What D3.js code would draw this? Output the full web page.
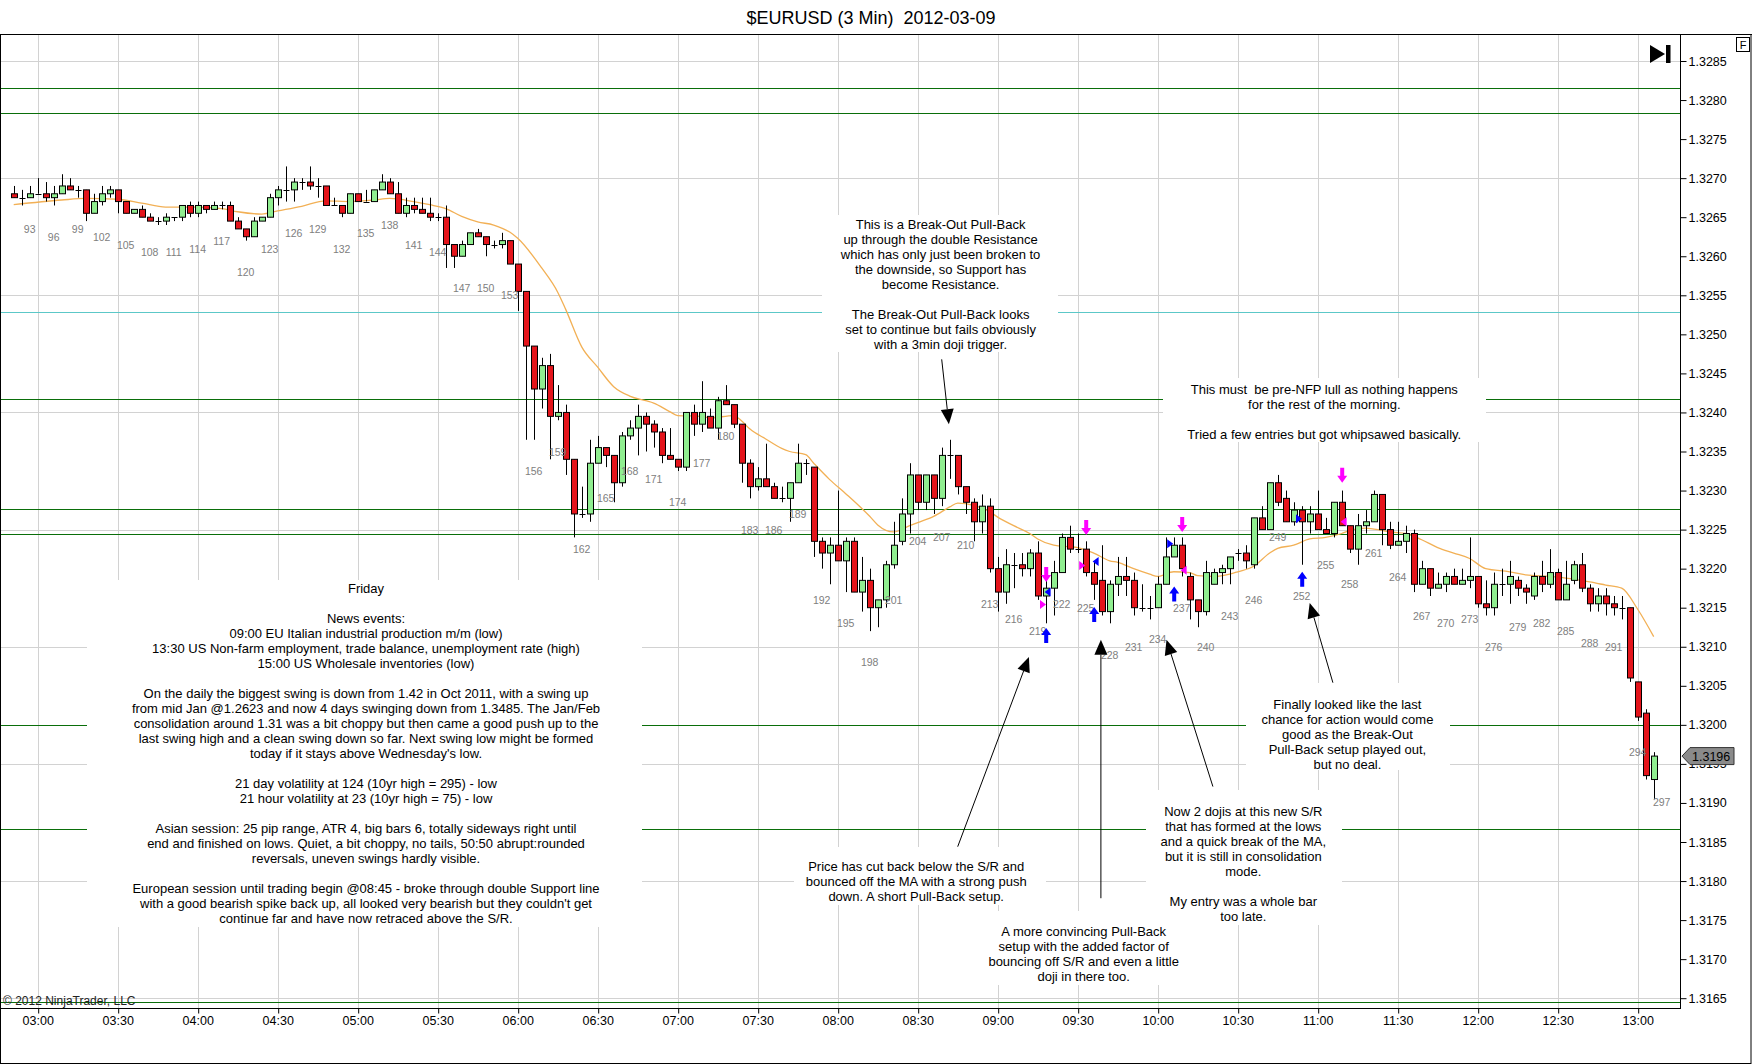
<!DOCTYPE html>
<html>
<head>
<meta charset="utf-8">
<script src="https://cdn.jsdelivr.net/npm/d3@7"></script>
<style>
  body { margin: 0; background: #fff; }
  svg { display: block; font-family: "Liberation Sans", Arial, sans-serif; }
  .note text { font-size: 13px; fill: #000; white-space: pre; }
</style>
</head>
<body>
<svg id="chart" width="1752" height="1064"></svg>
<script>
// ---- chart data ----
const title = "$EURUSD (3 Min)  2012-03-09";
const sessionDate = "2012-03-09";
const firstBar = 91;        // bar number of the first candle on screen
const firstTickBar = 94;    // bar number sitting on the 03:00 tick

const opens = [
  1.32680,1.32675,1.32675,1.32680,1.32680,1.32675,1.32680,1.32690,1.32685,1.32685,
  1.32655,1.32670,1.32680,1.32685,1.32670,1.32655,1.32660,1.32650,1.32645,1.32645,
  1.32650,1.32650,1.32665,1.32655,1.32665,1.32660,1.32665,1.32665,1.32645,1.32635,
  1.32625,1.32645,1.32650,1.32675,1.32685,1.32685,1.32695,1.32695,1.32690,1.32690,
  1.32665,1.32665,1.32655,1.32680,1.32670,1.32670,1.32685,1.32695,1.32680,1.32655,
  1.32665,1.32660,1.32655,1.32650,1.32650,1.32615,1.32600,1.32615,1.32630,1.32625,
  1.32615,1.32615,1.32620,1.32590,1.32555,1.32485,1.32430,1.32460,1.32395,1.32400,
  1.32340,1.32270,1.32270,1.32335,1.32355,1.32345,1.32310,1.32370,1.32380,1.32395,
  1.32385,1.32375,1.32345,1.32340,1.32330,1.32400,1.32385,1.32395,1.32380,1.32415,
  1.32410,1.32385,1.32335,1.32305,1.32315,1.32305,1.32290,1.32290,1.32310,1.32335,
  1.32330,1.32235,1.32220,1.32230,1.32210,1.32235,1.32170,1.32185,1.32150,1.32160,
  1.32205,1.32235,1.32270,1.32320,1.32285,1.32320,1.32290,1.32345,1.32345,1.32305,
  1.32285,1.32260,1.32280,1.32200,1.32170,1.32205,1.32205,1.32200,1.32220,1.32165,
  1.32175,1.32195,1.32240,1.32225,1.32225,1.32195,1.32185,1.32145,1.32180,1.32190,
  1.32185,1.32150,1.32150,1.32150,1.32180,1.32215,1.32230,1.32190,1.32160,1.32145,
  1.32180,1.32195,1.32200,1.32220,1.32220,1.32205,1.32265,1.32250,1.32310,1.32290,
  1.32260,1.32275,1.32260,1.32270,1.32250,1.32245,1.32285,1.32255,1.32225,1.32255,
  1.32260,1.32295,1.32250,1.32230,1.32235,1.32245,1.32180,1.32200,1.32175,1.32180,
  1.32190,1.32180,1.32185,1.32190,1.32155,1.32150,1.32180,1.32180,1.32185,1.32175,
  1.32165,1.32190,1.32180,1.32195,1.32160,1.32185,1.32205,1.32175,1.32155,1.32165,
  1.32155,1.32150,1.32150,1.32055,1.32015,1.31930
];
const highs = [
  1.32690,1.32685,1.32690,1.32700,1.32695,1.32690,1.32705,1.32700,1.32690,1.32685,
  1.32680,1.32690,1.32690,1.32685,1.32670,1.32660,1.32665,1.32655,1.32650,1.32655,
  1.32650,1.32665,1.32670,1.32670,1.32665,1.32670,1.32670,1.32670,1.32650,1.32635,
  1.32650,1.32650,1.32680,1.32690,1.32715,1.32700,1.32700,1.32715,1.32700,1.32690,
  1.32675,1.32665,1.32680,1.32680,1.32685,1.32685,1.32705,1.32700,1.32695,1.32675,
  1.32675,1.32675,1.32675,1.32655,1.32665,1.32615,1.32620,1.32630,1.32635,1.32625,
  1.32620,1.32630,1.32620,1.32590,1.32555,1.32485,1.32470,1.32475,1.32435,1.32410,
  1.32340,1.32305,1.32365,1.32370,1.32355,1.32345,1.32375,1.32390,1.32410,1.32400,
  1.32390,1.32380,1.32380,1.32340,1.32400,1.32410,1.32440,1.32405,1.32420,1.32435,
  1.32410,1.32385,1.32340,1.32330,1.32360,1.32310,1.32305,1.32310,1.32360,1.32340,
  1.32330,1.32240,1.32240,1.32300,1.32240,1.32240,1.32215,1.32200,1.32160,1.32210,
  1.32260,1.32290,1.32335,1.32320,1.32320,1.32320,1.32355,1.32365,1.32345,1.32305,
  1.32290,1.32295,1.32290,1.32215,1.32225,1.32220,1.32220,1.32225,1.32235,1.32195,
  1.32210,1.32245,1.32255,1.32245,1.32235,1.32210,1.32230,1.32185,1.32215,1.32215,
  1.32195,1.32180,1.32165,1.32190,1.32240,1.32240,1.32240,1.32195,1.32160,1.32210,
  1.32200,1.32205,1.32215,1.32225,1.32230,1.32265,1.32280,1.32310,1.32320,1.32300,
  1.32285,1.32280,1.32280,1.32300,1.32265,1.32285,1.32300,1.32255,1.32270,1.32275,
  1.32300,1.32295,1.32260,1.32260,1.32255,1.32250,1.32210,1.32200,1.32195,1.32195,
  1.32200,1.32200,1.32240,1.32190,1.32185,1.32195,1.32200,1.32210,1.32190,1.32180,
  1.32195,1.32210,1.32225,1.32200,1.32210,1.32210,1.32220,1.32180,1.32175,1.32175,
  1.32165,1.32165,1.32150,1.32055,1.32020,1.31965
];
const lows = [
  1.32675,1.32665,1.32675,1.32680,1.32670,1.32665,1.32680,1.32685,1.32675,1.32645,
  1.32655,1.32665,1.32675,1.32655,1.32655,1.32655,1.32650,1.32645,1.32640,1.32640,
  1.32645,1.32645,1.32650,1.32650,1.32655,1.32660,1.32660,1.32645,1.32635,1.32620,
  1.32625,1.32645,1.32650,1.32665,1.32670,1.32670,1.32685,1.32685,1.32675,1.32665,
  1.32665,1.32650,1.32655,1.32670,1.32670,1.32670,1.32685,1.32680,1.32655,1.32650,
  1.32655,1.32655,1.32645,1.32645,1.32585,1.32585,1.32600,1.32615,1.32625,1.32600,
  1.32610,1.32610,1.32590,1.32530,1.32365,1.32365,1.32405,1.32340,1.32390,1.32320,
  1.32240,1.32265,1.32260,1.32335,1.32330,1.32285,1.32305,1.32365,1.32345,1.32350,
  1.32355,1.32335,1.32340,1.32325,1.32325,1.32370,1.32375,1.32380,1.32365,1.32410,
  1.32380,1.32310,1.32290,1.32300,1.32305,1.32290,1.32285,1.32260,1.32310,1.32320,
  1.32215,1.32200,1.32180,1.32210,1.32170,1.32170,1.32145,1.32120,1.32125,1.32150,
  1.32200,1.32230,1.32245,1.32275,1.32275,1.32270,1.32280,1.32315,1.32295,1.32270,
  1.32235,1.32245,1.32195,1.32145,1.32155,1.32175,1.32190,1.32190,1.32160,1.32130,
  1.32140,1.32195,1.32220,1.32220,1.32190,1.32160,1.32140,1.32130,1.32165,1.32165,
  1.32140,1.32145,1.32135,1.32150,1.32180,1.32215,1.32190,1.32135,1.32125,1.32140,
  1.32180,1.32180,1.32180,1.32210,1.32200,1.32200,1.32250,1.32250,1.32280,1.32260,
  1.32255,1.32205,1.32245,1.32250,1.32245,1.32240,1.32255,1.32220,1.32205,1.32245,
  1.32260,1.32230,1.32225,1.32230,1.32220,1.32170,1.32180,1.32165,1.32175,1.32170,
  1.32180,1.32180,1.32175,1.32150,1.32140,1.32140,1.32165,1.32155,1.32165,1.32155,
  1.32160,1.32170,1.32175,1.32160,1.32160,1.32180,1.32170,1.32145,1.32145,1.32140,
  1.32140,1.32135,1.32055,1.32005,1.31930,1.31905
];
const closes = [
  1.32675,1.32675,1.32680,1.32680,1.32675,1.32680,1.32690,1.32685,1.32685,1.32655,
  1.32670,1.32680,1.32685,1.32670,1.32655,1.32660,1.32650,1.32645,1.32645,1.32650,
  1.32650,1.32665,1.32655,1.32665,1.32660,1.32665,1.32665,1.32645,1.32635,1.32625,
  1.32645,1.32650,1.32675,1.32685,1.32685,1.32695,1.32695,1.32690,1.32690,1.32665,
  1.32665,1.32655,1.32680,1.32670,1.32670,1.32685,1.32695,1.32680,1.32655,1.32665,
  1.32660,1.32655,1.32650,1.32650,1.32615,1.32600,1.32615,1.32630,1.32625,1.32615,
  1.32615,1.32620,1.32590,1.32555,1.32485,1.32430,1.32460,1.32395,1.32400,1.32340,
  1.32270,1.32270,1.32335,1.32355,1.32345,1.32310,1.32370,1.32380,1.32395,1.32385,
  1.32375,1.32345,1.32340,1.32330,1.32400,1.32385,1.32400,1.32380,1.32415,1.32410,
  1.32385,1.32335,1.32305,1.32315,1.32305,1.32290,1.32290,1.32310,1.32335,1.32335,
  1.32235,1.32220,1.32230,1.32210,1.32235,1.32170,1.32185,1.32150,1.32160,1.32205,
  1.32230,1.32270,1.32320,1.32285,1.32320,1.32290,1.32345,1.32345,1.32305,1.32285,
  1.32260,1.32280,1.32200,1.32170,1.32205,1.32205,1.32200,1.32220,1.32165,1.32175,
  1.32195,1.32240,1.32225,1.32225,1.32195,1.32180,1.32145,1.32180,1.32190,1.32185,
  1.32150,1.32150,1.32150,1.32180,1.32215,1.32230,1.32200,1.32160,1.32145,1.32195,
  1.32195,1.32200,1.32215,1.32220,1.32210,1.32265,1.32250,1.32310,1.32285,1.32260,
  1.32275,1.32260,1.32270,1.32250,1.32245,1.32285,1.32255,1.32225,1.32255,1.32260,
  1.32295,1.32250,1.32230,1.32235,1.32245,1.32180,1.32200,1.32175,1.32180,1.32190,
  1.32180,1.32185,1.32190,1.32155,1.32150,1.32180,1.32180,1.32190,1.32175,1.32170,
  1.32190,1.32180,1.32195,1.32160,1.32180,1.32205,1.32175,1.32155,1.32165,1.32155,
  1.32150,1.32150,1.32060,1.32010,1.31935,1.31960
];

// moving average (orange line)
const maBars = [91,97,100,104,107,110,114,117,119,122,124,127,130,133,136,138,141,143,145,147,
  149,151,153,154,157,159,160,162,164,166,168,170,171,173,174,177,178,181,182,183,
  185,187,188,190,191,193,195,198,199,201,203,204,206,208,209,211,213,214,216,218,
  219,221,223,224,226,228,229,231,233,234,236,238,239,241,243,244,246,248,249,251,
  253,255,257,258,260,262,263,265,267,269,271,273,275,278,280,283,285,288,290,292,294,296];
const maValues = [1.32666,1.32672,1.32674,1.32673,1.32668,1.32663,1.32663,1.32661,1.32657,1.32654,
  1.32658,1.32664,1.32671,1.32670,1.32672,1.32674,1.32670,1.32666,1.32661,1.32651,
  1.32644,1.32640,1.32631,1.32623,1.32585,1.32554,1.32532,1.32484,1.32458,1.32433,
  1.32421,1.32415,1.32412,1.32401,1.32396,1.32395,1.32393,1.32396,1.32389,1.32379,
  1.32366,1.32354,1.32350,1.32346,1.32335,1.32314,1.32296,1.32267,1.32256,1.32247,
  1.32255,1.32259,1.32267,1.32279,1.32284,1.32281,1.32273,1.32266,1.32255,1.32245,
  1.32238,1.32230,1.32228,1.32227,1.32220,1.32210,1.32208,1.32200,1.32193,1.32190,
  1.32196,1.32195,1.32191,1.32190,1.32193,1.32196,1.32203,1.32220,1.32226,1.32230,
  1.32238,1.32240,1.32245,1.32249,1.32252,1.32249,1.32247,1.32245,1.32237,1.32227,
  1.32220,1.32213,1.32200,1.32196,1.32192,1.32190,1.32188,1.32183,1.32179,1.32175,1.32148,1.32113];

// horizontal support / resistance lines
const srPrices = [1.32815, 1.32783, 1.32528, 1.32417, 1.32277, 1.32245, 1.32000, 1.31867, 1.31645];
const srColors = ["#0a6e0a","#0a6e0a","#5cc8c8","#0a6e0a","#0a6e0a","#0a6e0a","#0a6e0a","#0a6e0a","#0a6e0a"];

// signal arrows
const shortArrowBars = [220, 225, 237, 257];
const shortArrowPrices = [1.32183, 1.32243, 1.32247, 1.32310];
const longArrowBars = [220, 226, 236, 252];
const longArrowPrices = [1.32124, 1.32151, 1.32177, 1.32196];

// small execution marks
const fillBars = [219.6, 220.3, 224.5, 226.3, 235.5, 237.3, 251.6, 257.3];
const fillPrices = [1.32154, 1.32170, 1.32204, 1.32209, 1.32232, 1.32198, 1.32264, 1.32260];
const fillColors = ["#ff00ff","#0000ff","#ff00ff","#0000ff","#0000ff","#ff00ff","#0000ff","#ff00ff"];
const fillDirs = [1, -1, 1, -1, 1, -1, 1, -1];

const lastPrice = 1.3196;
const yTicks = [1.3165,1.3170,1.3175,1.3180,1.3185,1.3190,1.3195,1.3200,1.3205,1.3210,1.3215,1.3220,
  1.3225,1.3230,1.3235,1.3240,1.3245,1.3250,1.3255,1.3260,1.3265,1.3270,1.3275,1.3280,1.3285];
const gridPrices = [1.3165,1.3180,1.3195,1.3210,1.3225,1.3240,1.3255,1.3270,1.3285];
const timeTicks = ["03:00","03:30","04:00","04:30","05:00","05:30","06:00","06:30","07:00","07:30",
  "08:00","08:30","09:00","09:30","10:00","10:30","11:00","11:30","12:00","12:30","13:00"];

// annotation texts
const notesLeft = ["Friday", "", "News events:",
  "09:00 EU Italian industrial production m/m (low)",
  "13:30 US Non-farm employment, trade balance, unemployment rate (high)",
  "15:00 US Wholesale inventories (low)", "",
  "On the daily the biggest swing is down from 1.42 in Oct 2011, with a swing up",
  "from mid Jan @1.2623 and now 4 days swinging down from 1.3485. The Jan/Feb",
  "consolidation around 1.31 was a bit choppy but then came a good push up to the",
  "last swing high and a clean swing down so far. Next swing low might be formed",
  "today if it stays above Wednesday's low.", "",
  "21 day volatility at 124 (10yr high = 295) - low",
  "21 hour volatility at 23 (10yr high = 75) - low", "",
  "Asian session: 25 pip range, ATR 4, big bars 6, totally sideways right until",
  "end and finished on lows. Quiet, a bit choppy, no tails, 50:50 abrupt:rounded",
  "reversals, uneven swings hardly visible.", "",
  "European session until trading begin @08:45 - broke through double Support line",
  "with a good bearish spike back up, all looked very bearish but they couldn't get",
  "continue far and have now retraced above the S/R."];
const notesBreakOut = ["This is a Break-Out Pull-Back", "up through the double Resistance",
  "which has only just been broken to", "the downside, so Support has", "become Resistance.", "",
  "The Break-Out Pull-Back looks", "set to continue but fails obviously", "with a 3min doji trigger."];
const notesLull = ["This must  be pre-NFP lull as nothing happens", "for the rest of the morning.", "",
  "Tried a few entries but got whipsawed basically."];
const notesCutBack = ["Price has cut back below the S/R and", "bounced off the MA with a strong push",
  "down. A short Pull-Back setup."];
const notesConvincing = ["A more convincing Pull-Back", "setup with the added factor of",
  "bouncing off S/R and even a little", "doji in there too."];
const notesDojis = ["Now 2 dojis at this new S/R", "that has formed at the lows", "and a quick break of the MA,",
  "but it is still in consolidation", "mode.", "", "My entry was a whole bar", "too late."];
const notesFinally = ["Finally looked like the last", "chance for action would come", "good as the Break-Out",
  "Pull-Back setup played out,", "but no deal."];

// ---- layout ----
const svg = d3.select("#chart");
const W = 1752, H = 1064;
const plot = { left: 1, top: 34, right: 1680, bottom: 1008 };

const parseTime = d3.timeParse("%Y-%m-%d %H:%M");
const tickDates = timeTicks.map(s => parseTime(sessionDate + " " + s));
const barTime = n => new Date(tickDates[0].getTime() + (n - firstTickBar) * 3 * 60000);

const x = d3.scaleTime()
  .domain([tickDates[0], tickDates[tickDates.length - 1]])
  .range([37.7, 1637.7]);
const xb = n => x(barTime(n));
const y = d3.scaleLinear().domain([1.3165, 1.3285]).range([998.2, 61]);
const px = v => Math.round(v) + 0.5;

svg.append("rect").attr("width", W).attr("height", H).attr("fill", "#fff");

svg.append("defs").append("clipPath").attr("id", "plotClip")
  .append("rect")
  .attr("x", plot.left).attr("y", plot.top)
  .attr("width", plot.right - plot.left).attr("height", plot.bottom - plot.top);

const back = svg.append("g").attr("clip-path", "url(#plotClip)");

// grid
back.append("g").selectAll("line").data(tickDates).join("line")
  .attr("x1", d => px(x(d))).attr("x2", d => px(x(d)))
  .attr("y1", plot.top).attr("y2", plot.bottom)
  .attr("stroke", "#d2d2d2");
back.append("g").selectAll("line").data(gridPrices).join("line")
  .attr("x1", plot.left).attr("x2", plot.right)
  .attr("y1", d => px(y(d))).attr("y2", d => px(y(d)))
  .attr("stroke", "#d2d2d2");

// S/R lines
back.append("g").selectAll("line").data(srPrices).join("line")
  .attr("x1", plot.left).attr("x2", plot.right)
  .attr("y1", d => px(y(d))).attr("y2", d => px(y(d)))
  .attr("stroke", (d, i) => srColors[i]).attr("stroke-width", 1.2);

// text boxes (white background hides grid and S/R lines)
function note(lines, box, cx, firstY) {
  const g = svg.append("g").attr("class", "note");
  g.append("rect")
    .attr("x", box[0]).attr("y", box[1])
    .attr("width", box[2] - box[0]).attr("height", box[3] - box[1])
    .attr("fill", "#fff");
  g.selectAll("text").data(lines).join("text")
    .attr("x", cx).attr("y", (d, i) => firstY + i * 15 + 4.6)
    .attr("text-anchor", "middle")
    .text(d => d);
}
note(notesLeft, [87, 580, 642, 927], 366, 588.3);
note(notesBreakOut, [822, 215, 1058, 352], 940.6, 224.3);
note(notesLull, [1163, 378, 1486, 442], 1324.3, 389);
note(notesCutBack, [794, 847, 1046, 905], 916.2, 866.7);
note(notesConvincing, [975, 911, 1192, 985], 1083.7, 931.7);
note(notesDojis, [1146, 790, 1342, 925], 1243.3, 811.7);
note(notesFinally, [1246, 683, 1450, 770], 1347.4, 704.3);

const front = svg.append("g").attr("clip-path", "url(#plotClip)");

// moving average
const maLine = d3.line()
  .x((d, i) => xb(maBars[i]))
  .y(d => y(d))
  .curve(d3.curveMonotoneX);
front.append("path").datum(maValues)
  .attr("d", maLine).attr("fill", "none")
  .attr("stroke", "#f2b055").attr("stroke-width", 1.3);

// candles
const bars = opens.map((o, i) => ({ n: firstBar + i, o, h: highs[i], l: lows[i], c: closes[i] }));
const cg = front.append("g").selectAll("g").data(bars).join("g");
cg.append("line")
  .attr("x1", d => Math.round(xb(d.n)) + 0.5).attr("x2", d => Math.round(xb(d.n)) + 0.5)
  .attr("y1", d => y(d.h)).attr("y2", d => y(d.l))
  .attr("stroke", "#000");
cg.filter(d => Math.abs(y(d.o) - y(d.c)) >= 1).append("rect")
  .attr("x", d => Math.round(xb(d.n)) - 2.5)
  .attr("y", d => y(Math.max(d.o, d.c)))
  .attr("width", 6)
  .attr("height", d => Math.abs(y(d.o) - y(d.c)))
  .attr("fill", d => d.c > d.o ? "#90ee90" : "#e4141b")
  .attr("stroke", "#000");
cg.filter(d => Math.abs(y(d.o) - y(d.c)) < 1).append("line")
  .attr("x1", d => Math.round(xb(d.n)) - 2.5).attr("x2", d => Math.round(xb(d.n)) + 3.5)
  .attr("y1", d => px(y(d.o))).attr("y2", d => px(y(d.o)))
  .attr("stroke", "#000");

// bar numbers under every third bar
const labelled = bars.filter(d => d.n % 3 === 0);
front.append("g").selectAll("text").data(labelled).join("text")
  .attr("x", d => xb(d.n)).attr("y", d => y(d.l) + 35.3)
  .attr("text-anchor", "middle").attr("font-size", "10.5px").attr("fill", "#808080")
  .text(d => d.n);
const lastBar = bars[bars.length - 1];
front.append("text")
  .attr("x", xb(lastBar.n + 1)).attr("y", y(lastBar.l) + 7)
  .attr("text-anchor", "middle").attr("font-size", "10.5px").attr("fill", "#808080")
  .text(lastBar.n + 1);

// signal arrows
const downArrow = "M0,0 L-5,-7 L-2,-7 L-2,-15 L2,-15 L2,-7 L5,-7 Z";
const upArrow = "M0,0 L-5,7 L-2,7 L-2,15 L2,15 L2,7 L5,7 Z";
front.append("g").selectAll("path").data(shortArrowBars).join("path")
  .attr("transform", (d, i) => `translate(${xb(d) + 0.5},${y(shortArrowPrices[i])})`)
  .attr("d", downArrow).attr("fill", "#ff00ff");
front.append("g").selectAll("path").data(longArrowBars).join("path")
  .attr("transform", (d, i) => `translate(${xb(d) + 0.5},${y(longArrowPrices[i])})`)
  .attr("d", upArrow).attr("fill", "#0000ff");
front.append("g").selectAll("path").data(fillBars).join("path")
  .attr("transform", (d, i) => `translate(${xb(d)},${y(fillPrices[i])}) scale(${fillDirs[i]},1)`)
  .attr("d", "M3.5,0 L-2.5,-4.5 L-2.5,4.5 Z").attr("fill", (d, i) => fillColors[i]);

// annotation arrows, anchored on bar / price
function pointer(b0, p0, b1, p1) {
  const x0 = xb(b0), y0 = y(p0), x1 = xb(b1), y1 = y(p1);
  const a = Math.atan2(y1 - y0, x1 - x0), len = 15, hw = 6.5;
  const bx = x1 - len * Math.cos(a), by = y1 - len * Math.sin(a);
  svg.append("line").attr("x1", x0).attr("y1", y0).attr("x2", bx).attr("y2", by)
    .attr("stroke", "#000").attr("stroke-width", 1);
  svg.append("path")
    .attr("d", `M${x1},${y1} L${bx + hw * Math.sin(a)},${by - hw * Math.cos(a)} L${bx - hw * Math.sin(a)},${by + hw * Math.cos(a)} Z`)
    .attr("fill", "#000");
}
pointer(207.0, 1.32468, 207.9, 1.32385);
pointer(209.0, 1.31844, 217.9, 1.32087);
pointer(226.9, 1.31778, 226.9, 1.32109);
pointer(240.9, 1.31921, 235.1, 1.32109);
pointer(255.9, 1.32054, 253.0, 1.32156);

// axes
const yAxis = svg.append("g").attr("transform", `translate(${plot.right + 0.5},0)`)
  .call(d3.axisRight(y).tickValues(yTicks).tickSize(6).tickPadding(2).tickFormat(d3.format(".4f")));
yAxis.select(".domain").remove();
yAxis.selectAll("text").attr("font-size", "12.5px").attr("font-family", "Liberation Sans, Arial, sans-serif").attr("fill", "#000");

const xAxis = svg.append("g").attr("transform", `translate(0,${plot.bottom + 0.5})`)
  .call(d3.axisBottom(x).tickValues(tickDates).tickSize(5).tickPadding(3).tickFormat(d3.timeFormat("%H:%M")));
xAxis.select(".domain").remove();
xAxis.selectAll(".tick line").attr("transform", "translate(0.5,0)");
xAxis.selectAll("text").attr("font-size", "12.5px").attr("font-family", "Liberation Sans, Arial, sans-serif").attr("fill", "#000");

// frame
svg.append("line").attr("x1", 0).attr("x2", W).attr("y1", plot.top + 0.5).attr("y2", plot.top + 0.5).attr("stroke", "#000");
svg.append("line").attr("x1", plot.right + 0.5).attr("x2", plot.right + 0.5).attr("y1", plot.top).attr("y2", plot.bottom + 1).attr("stroke", "#000");
svg.append("line").attr("x1", 0).attr("x2", plot.right + 1).attr("y1", plot.bottom + 0.5).attr("y2", plot.bottom + 0.5).attr("stroke", "#000");
svg.append("rect").attr("x", 0.5).attr("y", plot.top + 0.5).attr("width", W - 1.5).attr("height", H - plot.top - 1)
  .attr("fill", "none").attr("stroke", "#000");

// last price marker
const ly = y(lastPrice);
svg.append("path")
  .attr("d", `M${plot.right + 2},${ly} L${plot.right + 10},${ly - 8.5} L${plot.right + 54},${ly - 8.5} L${plot.right + 54},${ly + 8.5} L${plot.right + 10},${ly + 8.5} Z`)
  .attr("fill", "#8a8a8a").attr("stroke", "#333");
svg.append("text").attr("x", plot.right + 12).attr("y", ly + 4.5)
  .attr("font-size", "12.5px").attr("fill", "#000").text(d3.format(".4f")(lastPrice));

// top-right controls
svg.append("path").attr("d", "M1650,45 L1665,54 L1650,63 Z").attr("fill", "#000");
svg.append("rect").attr("x", 1666).attr("y", 45).attr("width", 4.5).attr("height", 18).attr("fill", "#000");
svg.append("rect").attr("x", 1736.5).attr("y", 37.5).attr("width", 13).attr("height", 14)
  .attr("fill", "#fff").attr("stroke", "#000");
svg.append("text").attr("x", 1743).attr("y", 49).attr("text-anchor", "middle")
  .attr("font-size", "11px").text("F");

// title and copyright
svg.append("text").attr("x", 871).attr("y", 23.5).attr("text-anchor", "middle")
  .attr("font-size", "18px").style("white-space", "pre").text(title);
svg.append("text").attr("x", 3).attr("y", 1004.5).attr("font-size", "12px").attr("fill", "#222")
  .text("© 2012 NinjaTrader, LLC");
</script>
</body>
</html>
